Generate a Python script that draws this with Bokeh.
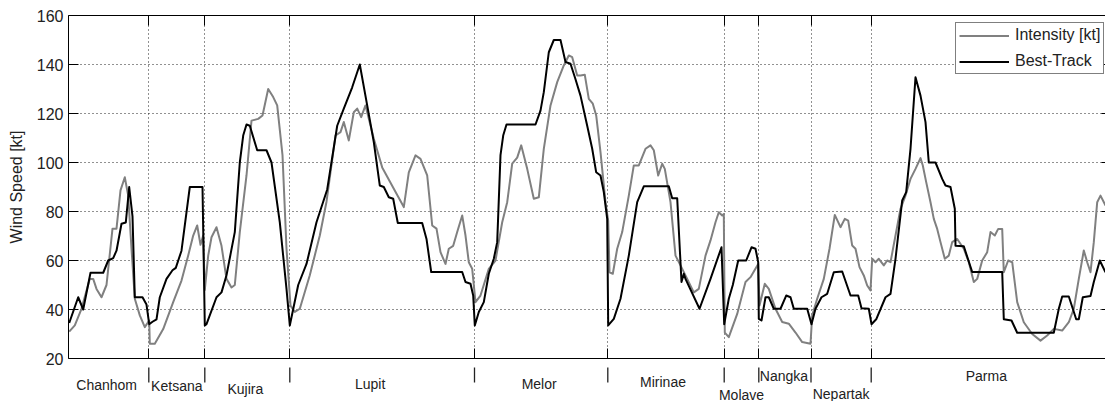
from bokeh.plotting import figure
from bokeh.layouts import column
from bokeh.models import Range1d, FixedTicker, LinearAxis, ColumnDataSource
from bokeh.core.properties import value
from bokeh.embed import file_html
from bokeh.resources import INLINE

FONT = "Liberation Sans"

# ---------------- data ----------------
storm_names = ["Chanhom", "Ketsana", "Kujira", "Lupit", "Melor", "Mirinae",
               "Molave", "Nangka", "Nepartak", "Parma"]
storm_bounds = [80.3, 136.3, 221.3, 406.0, 539.3, 655.7, 690.3, 742.5, 802.7]
x_start, x_end = 0, 1037
y_ticks = [20, 40, 60, 80, 100, 120, 140, 160]

bt_t = [0.7, 9.7, 14.7, 22, 34.7, 39.7, 44.7, 48, 53, 57.3, 60.7, 64, 66.3, 74, 78, 80.7, 84, 88,
        91.3, 98, 104, 107.3, 113, 121.3, 134, 136.3, 138, 148, 153, 158, 166.3, 171.3, 174.7,
        178, 181.3, 188.7, 198, 203, 211.3, 218, 221.3, 229.7, 238, 248, 258.7, 268.7, 275.3,
        283.7, 291.3, 298.7, 305.3, 311.3, 315.3, 320.3, 324.7, 329.3, 353.7, 358, 362.7, 393.7,
        397, 402, 404.7, 406.3, 410.3, 415.3, 420.3, 425.3, 428.7, 432, 434.7, 438, 467, 472,
        475.3, 480.3, 485.3, 492, 497, 502, 507, 512, 518.7, 523.7, 527.7, 532, 535.3, 538.7,
        539.7, 545.3, 552, 560.3, 568.7, 575.3, 600.3, 603.7, 608.7, 613, 615.3, 617, 631, 642,
        653, 655.7, 660.3, 664.3, 669.7, 677.7, 683, 687, 689.7, 690.3, 693, 697, 700.3, 705.3,
        712, 717.7, 722, 725.3, 738.7, 743, 747, 753, 758.7, 765.3, 773.7, 782, 789.7, 793,
        800.3, 803, 807.7, 817, 822, 827, 833.7, 837.7, 842, 847, 852, 857, 860.3, 867, 873.7,
        877, 882, 886.3, 887, 895.3, 903.7, 933.7, 935.3, 943, 948.7, 985.3, 990.3, 993.7,
        1000.3, 1004.3, 1007.7, 1010.3, 1014.3, 1022, 1025.3, 1031.3, 1037]
bt_kt = [34.5, 45, 40, 55, 55, 60, 61, 64, 75, 75.5, 90, 78, 45, 45, 42, 34, 35, 36,
         45, 52.5, 56, 57, 64, 90, 90, 33.5, 34, 45, 47, 54, 71.6, 100, 111,
         115.5, 115, 105, 105, 100, 75.6, 48.4, 33.5, 50, 58.6, 75.6, 89, 115, 122,
         130.7, 140, 123.3, 108.3, 90.6, 90, 85.8, 85.2, 75.3, 75.3, 68.8, 55.3, 55.3,
         51.2, 50.5, 45.7, 33.5, 39, 43, 54.6, 60.7, 67.5, 103, 111, 115.5, 115.5, 121.2,
         128.7, 145, 150, 150, 141, 140.3, 134, 127.3, 115, 105.6, 96, 94.7, 87.9, 77,
         33.5, 36.2, 44.4, 62, 83.8, 90.3, 90.3, 85.4, 85.4, 51.2, 54.6, 52.5, 40.3, 52.5,
         65.4, 34, 44.4, 50, 60, 60, 65.4, 64.8, 59.3, 36.2, 35.5, 45, 45, 40.3,
         40.3, 45.7, 45, 40.3, 40.3, 34, 40.3, 45, 46.4, 55.2, 55.5, 45.7, 45.7, 40.5,
         40.3, 34, 36, 45, 46.4, 60.7, 84.5, 87.9, 105.6, 134.8, 127.3, 116.5, 100, 100, 93.3,
         90.6, 90, 81.1, 66, 65.8, 55.3, 55.3, 36, 35.5, 30.5, 30.5, 40.3, 45.3,
         45.3, 40.3, 36, 36, 45, 45.5, 51.2, 60, 55.2]

int_t = [0.7, 6.3, 13, 21.3, 24.7, 28, 33, 38, 44, 48, 52, 56.3, 59.7, 63, 66.3, 71.3, 76.3, 80.7,
         81.3, 86.3, 94.7, 104.7, 113, 119.7, 124.7, 128.7, 132, 134.7, 136.3, 139.7, 143, 148,
         153, 158, 163, 166.3, 171.3, 178, 183, 189.7, 194, 199.7, 204.7, 208.7, 214, 218, 222,
         226.3, 231.3, 241.3, 251.3, 258, 267, 272, 275.3, 280.3, 285.3, 288.7, 292.7, 297,
         305.3, 313.7, 325.3, 335.3, 340.3, 347, 352, 358.7, 363.7, 368, 372, 377, 380.3, 384.7,
         388.7, 393.7, 397, 400.3, 403.7, 407, 412, 420.3, 427, 433.7, 438.7, 443.7, 448.7,
         452.7, 458.7, 465.3, 470.3, 475.3, 482, 488.7, 495.3, 500.3, 503.7, 508.7, 512, 516.3,
         520.3, 524.3, 527.7, 532, 537, 539.7, 541, 544.3, 548.7, 553.7, 560.3, 565.3, 570.3,
         577, 582, 585.3, 589.7, 593.7, 596.3, 602, 607, 612, 618.7, 625.3, 630.3, 637, 642,
         647, 650.3, 653.7, 655.3, 656.3, 660.3, 668.7, 677, 682, 689.7, 691, 696.3, 700.3,
         707, 713.7, 720.3, 727, 733.7, 742, 743.7, 748.7, 755.3, 761, 766.3, 772, 776.3,
         779.7, 783.7, 787, 791, 795.3, 798.7, 802, 803.7, 807, 810.3, 815.3, 818.7, 822, 827,
         832, 837, 842, 847, 852, 854.3, 857.7, 862, 865.3, 868.7, 872, 876.3, 880.3, 883.7,
         888.7, 895.3, 900.3, 905.3, 908.7, 913.7, 918.7, 922, 926.3, 929.7, 933.7, 935.3,
         939.7, 943.7, 948.7, 955.3, 963.7, 972, 978.7, 985.3, 993.7, 1000.3, 1005.3, 1010.3,
         1015.3, 1018.7, 1022, 1025.3, 1028.7, 1032, 1037]
int_kt = [31, 33.5, 40.3, 52.5, 52.5, 48.4, 45, 50, 73, 73, 88.6, 94, 86.5, 64.8, 44.4, 37.6, 32.8, 35.5,
          26, 26, 32, 43, 51.8, 62, 70.2, 74.3, 66.4, 70.2, 48, 62, 69.5, 73.6,
          66, 52.5, 49, 50, 71.6, 94.7, 117.1, 117.8, 119.2, 130, 126.7, 123.3, 103, 64.8, 41.6,
          39, 40.3, 54, 70.2, 84, 111, 112.4, 116.5, 109, 120.5, 122, 118.5, 123.3,
          109.7, 98, 89.3, 81.8, 96, 102.9, 101.5, 94.7, 74.3, 73, 63.4, 58.6, 64.8, 66,
          71.6, 78.4, 70.2, 59.3, 56.6, 43, 45.7, 56.6, 60, 75.6, 83.8, 99.5, 102,
          107, 97.4, 85.2, 85.8, 105.6, 123.3, 132.8, 139.6, 143.7, 143, 135.5, 135.5, 135.8,
          126, 124, 119.2, 104.2, 83.8, 76.3, 55.2, 54.6, 64.8, 71.6, 86.5, 98.8, 98.8,
          105.6, 107, 105, 94.7, 99.5, 97.4, 83.8, 62, 58, 52.5, 47, 48.4, 62, 68.2,
          75.6, 79.7, 78.4, 79, 30.6, 28.7, 38.2, 51.2, 53.2, 58.6, 41.6, 50.5, 48.4,
          40.3, 34.9, 34.2, 30.6, 26.7, 26, 37.6, 44.4, 52.5, 64.8, 78.6, 73.6, 77,
          76.3, 66.1, 64.8, 57.3, 53.9, 49.8, 47.8, 60.7, 59.3, 60.7, 58, 60, 59.3, 70.2,
          81.1, 86.5, 93.3, 97.4, 101.8, 98.8, 92, 83.8, 77, 72.9, 67.5, 60.7, 62, 67.5,
          68.8, 64.8, 59.3, 51.2, 52.5, 60, 63.4, 71.6, 70.2, 72.9, 72.9, 55.2,
          60, 59.3, 43, 34.8, 30, 27.3, 29.4, 32.1, 31.4, 34.8, 40.3, 52.5,
          64.1, 59.3, 55.2, 67.5, 83.8, 86.5, 82.4]

# ---------------- layout / style ----------------
W = 1105
LEFT = 68
TOP = 15
FRAME_H = 343
BOTTOM = 9                            # room for the "20" tick label
MAIN_H = TOP + FRAME_H + BOTTOM       # frame bottom at 358
STRIP_H = 401 - MAIN_H                # strip with storm names under the axis
name_drop = [26, 27, 30, 25, 25, 23, 36, 17.5, 35, 17.5]   # px below the axis
name_dx = [-2, 0, -2, -12, -2, -3, 0, -1, 0, -2]
bar_top, bar_bottom = 5, 24

xr = Range1d(x_start, x_end)
p = figure(width=W, height=MAIN_H, output_backend="svg", toolbar_location=None,
           x_range=xr, y_range=Range1d(y_ticks[0], y_ticks[-1]),
           min_border_left=LEFT, min_border_right=0, min_border_top=TOP,
           min_border_bottom=BOTTOM)
p.background_fill_color = "white"
p.border_fill_color = "white"
p.outline_line_color = None

xt_minor = FixedTicker(ticks=[], minor_ticks=storm_bounds)
yt_minor = FixedTicker(ticks=[], minor_ticks=y_ticks)
xt = FixedTicker(ticks=storm_bounds, minor_ticks=[])
yt = FixedTicker(ticks=y_ticks, minor_ticks=[])


def frame_axis(ax, tick_len, line=True):
    ax.major_tick_in = 0
    ax.major_tick_out = 0
    ax.minor_tick_in = tick_len
    ax.minor_tick_out = 0
    ax.minor_tick_line_color = "black"
    ax.axis_line_color = "black" if line else None


xa = p.xaxis[0]
xa.ticker = xt_minor
frame_axis(xa, 10)
top = LinearAxis(ticker=xt_minor)
frame_axis(top, 10)
p.add_layout(top, "above")
right = LinearAxis(ticker=yt_minor)
frame_axis(right, 4, line=False)
p.add_layout(right, "right")

ya = p.yaxis[0]
ya.ticker = yt
ya.major_tick_in = 10
ya.major_tick_out = 0
ya.minor_tick_in = 0
ya.minor_tick_out = 0
ya.major_tick_line_color = "black"
ya.axis_line_color = "black"
ya.major_label_text_font = FONT
ya.major_label_text_font_size = "16px"
ya.major_label_text_color = "#222222"
ya.major_label_standoff = 5
ya.axis_label = "Wind Speed [kt]"
ya.axis_label_text_font = FONT
ya.axis_label_text_font_size = "16px"
ya.axis_label_text_font_style = "normal"
ya.axis_label_text_color = "#222222"
ya.axis_label_standoff = 9

for g in (p.xgrid[0], p.ygrid[0]):
    g.grid_line_color = "#222222"
    g.grid_line_dash = "1 3"
    g.grid_line_width = 1
p.xgrid[0].ticker = xt
p.ygrid[0].ticker = yt

p.line(int_t, int_kt, line_color="#808080", line_width=2, line_join="round",
       legend_label="Intensity [kt]")
p.line(bt_t, bt_kt, line_color="black", line_width=2, line_join="round",
       legend_label="Best-Track")

lg = p.legend[0]
lg.location = (887, 284)
lg.margin = 0
lg.padding = 3
lg.spacing = 8
lg.glyph_width = 50
lg.glyph_height = 17
lg.label_height = 17
lg.label_standoff = 6
lg.label_text_font = FONT
lg.label_text_font_size = "16px"
lg.label_text_color = "#222222"
lg.border_line_color = "black"
lg.border_line_width = 1
lg.background_fill_color = "white"
lg.background_fill_alpha = 1

# ---------------- strip below the axis: separators and storm names ----------------
s = figure(width=W, height=STRIP_H, output_backend="svg", toolbar_location=None,
           x_range=xr, y_range=Range1d(BOTTOM + STRIP_H, BOTTOM),
           x_axis_location=None, y_axis_location=None,
           min_border_left=LEFT, min_border_right=0, min_border_top=0, min_border_bottom=0)
s.outline_line_color = None
s.xgrid.visible = False
s.ygrid.visible = False
s.background_fill_color = "white"
s.border_fill_color = "white"

s.segment(x0=storm_bounds, y0=[bar_top] * len(storm_bounds),
          x1=storm_bounds, y1=[bar_bottom] * len(storm_bounds),
          line_color="#222222", line_width=1.3)

edges = [x_start] + storm_bounds + [x_end]
name_x = [(edges[i] + edges[i + 1]) / 2 + name_dx[i] for i in range(len(storm_names))]
src = ColumnDataSource(dict(x=name_x, y=name_drop, text=storm_names))
s.text(x="x", y="y", text="text", source=src, text_align="center", text_baseline="middle",
       text_font=value(FONT), text_font_size="14px", text_color="#222222")

layout = column(p, s, spacing=0)
open("out.html", "w").write(file_html(layout, INLINE))
